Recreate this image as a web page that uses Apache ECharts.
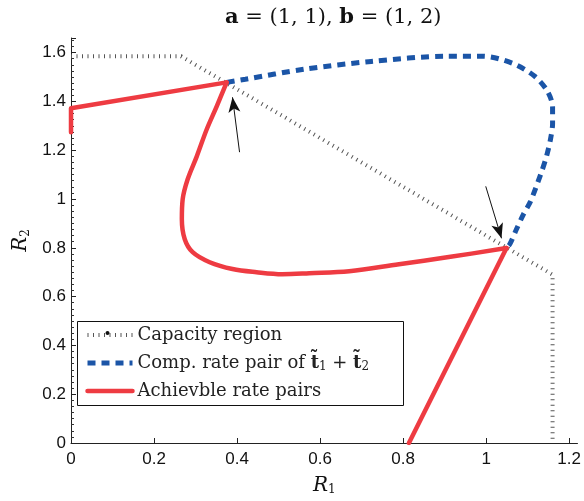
<!DOCTYPE html>
<html>
<head>
<meta charset="utf-8">
<script src="https://cdn.jsdelivr.net/npm/echarts@6/dist/echarts.min.js"></script>
<style>html,body{margin:0;padding:0;background:#fff;}#c{width:584px;height:501px;}</style>
</head>
<body>
<div id="c"></div>
<script>
// Capacity region (pentagon boundary)
const capX = [0, 0.265, 1.16, 1.16];
const capY = [1.585, 1.585, 0.69, 0];

// Computed rate pair curve (blue dashed)
const blueX = [0.375, 0.420, 0.562, 0.723, 0.903, 0.992, 1.064, 1.117, 1.148, 1.160, 1.160, 1.155, 1.146, 1.134, 1.107, 1.090, 1.073, 1.057, 1.049];
const blueY = [1.478, 1.491, 1.532, 1.564, 1.585, 1.585, 1.556, 1.503, 1.441, 1.376, 1.310, 1.245, 1.179, 1.114, 0.991, 0.938, 0.876, 0.815, 0.799];

// Achievable rate pairs (red): straight start, curve, straight tail
const redStartX = [0, 0, 0.375];
const redStartY = [1.274, 1.372, 1.478];
const redCurveX = [0.375, 0.351, 0.327, 0.303, 0.281, 0.269, 0.267, 0.274, 0.293, 0.334, 0.389, 0.447, 0.509, 0.574, 0.670, 0.790, 0.910, 1.049];
const redCurveY = [1.478, 1.380, 1.286, 1.175, 1.081, 0.999, 0.917, 0.835, 0.782, 0.741, 0.713, 0.700, 0.692, 0.696, 0.704, 0.733, 0.762, 0.799];
const redTailX = [1.049, 0.814];
const redTailY = [0.799, 0];

// Arrows [tailX, tailY, tipX, tipY]
const arrow1 = [0.406, 1.192, 0.389, 1.417];
const arrow2 = [0.999, 1.052, 1.037, 0.839];

const xTicks = [0, 0.2, 0.4, 0.6, 0.8, 1, 1.2];
const yTicks = [0, 0.2, 0.4, 0.6, 0.8, 1, 1.2, 1.4, 1.6];

const zip = (xs, ys) => xs.map((x, i) => [x, ys[i]]);

const chart = echarts.init(document.getElementById('c'), null, {renderer: 'canvas'});
const RED = '#ee3b42', BLUE = '#1b55a7';
const serif = 'DejaVu Serif';
const sans = 'Liberation Sans';

function isTick(v, arr) { return arr.some(t => Math.abs(t - v) < 1e-6); }

chart.setOption({
  animation: false,
  backgroundColor: '#fff',
  title: {
    text: '{b|a} = (1, 1), {b|b} = (1, 2)',
    left: 220, top: 2,
    textStyle: {
      fontFamily: serif, fontSize: 21, fontWeight: 'normal', color: '#111',
      rich: { b: { fontFamily: serif, fontSize: 21, fontWeight: 'bold', color: '#111' } }
    }
  },
  grid: { left: 71, right: 5, top: 38, bottom: 57, containLabel: false },
  xAxis: {
    type: 'value', min: 0, max: 1.22, interval: 0.2,
    name: '{i|R}{s|1}', nameLocation: 'middle', nameGap: 32,
    nameTextStyle: {
      rich: {
        i: { fontFamily: serif, fontStyle: 'italic', fontSize: 20, color: '#111' },
        s: { fontFamily: serif, fontSize: 12, color: '#111', padding: [9, 0, 0, 0] }
      }
    },
    axisLine: { lineStyle: { color: '#222', width: 1 } },
    axisTick: { inside: true, length: 5, lineStyle: { color: '#222' } },
    axisLabel: { showMaxLabel: false, margin: 8, fontFamily: sans, fontSize: 17, color: '#111',
      formatter: v => isTick(v, xTicks) ? String(+v.toFixed(1)) : '' },
    splitLine: { show: false }
  },
  yAxis: {
    type: 'value', min: 0, max: 1.66, interval: 0.2,
    name: '{i|R}{s|2}', nameLocation: 'middle', nameGap: 38, nameRotate: 90,
    nameTextStyle: {
      rich: {
        i: { fontFamily: serif, fontStyle: 'italic', fontSize: 20, color: '#111' },
        s: { fontFamily: serif, fontSize: 12, color: '#111', padding: [9, 0, 0, 0] }
      }
    },
    axisLine: { show: true, lineStyle: { color: '#222', width: 1 } },
    axisTick: { inside: true, length: 5, lineStyle: { color: '#222' } },
    minorTick: { show: true, splitNumber: 8, length: 3, lineStyle: { color: '#333' } },
    axisLabel: { showMaxLabel: false, margin: 5, fontFamily: sans, fontSize: 17, color: '#111',
      formatter: v => isTick(v, yTicks) ? String(+v.toFixed(1)) : '' },
    splitLine: { show: false }
  },
  graphic: [{
    type: 'rect', left: 77, top: 321, z: 100,
    shape: { width: 326, height: 84 },
    style: { fill: '#fff', stroke: '#111', lineWidth: 1 }
  }, {
    type: 'circle', left: 105.5, top: 331, z: 300,
    shape: { r: 2 },
    style: { fill: '#111' }
  }],
  legend: {
    orient: 'vertical', left: 85, top: 326, z: 200,
    padding: 0, itemWidth: 45, itemHeight: 14, itemGap: 8,
    itemStyle: { opacity: 0 },
    lineStyle: { width: 'inherit' },
    data: ['Capacity region', 'Comp. rate pair', 'Achievble rate pairs'],
    formatter: name => name === 'Comp. rate pair'
      ? '{n|Comp. rate pair of }{t|t̃}{s|1}{n| + }{t|t̃}{s|2}'
      : '{n|' + name + '}',
    textStyle: {
      fontFamily: serif, fontSize: 18, color: '#222', lineHeight: 14, height: 14,
      rich: {
        n: { fontFamily: serif, fontSize: 18, color: '#222', lineHeight: 14, height: 14 },
        t: { fontFamily: serif, fontSize: 18, fontWeight: 'bold', color: '#222', lineHeight: 14, height: 14 },
        s: { fontFamily: serif, fontSize: 12, color: '#222', lineHeight: 14, height: 14, padding: [8, 0, 0, 0] }
      }
    }
  },
  series: [
    {
      name: 'Capacity region', type: 'line', data: zip(capX, capY),
      symbol: 'none',
      itemStyle: { color: '#111' },
      lineStyle: { color: '#555', width: 4, type: [1, 4.5] },
      z: 2, silent: true
    },
    {
      name: 'Comp. rate pair', type: 'line', data: zip(blueX, blueY),
      symbol: 'none', smooth: 0.3, color: BLUE,
      lineStyle: { color: BLUE, width: 5, type: [8, 6] },
      z: 3, silent: true
    },
    {
      name: 'Achievble rate pairs', type: 'line', data: zip(redStartX, redStartY),
      symbol: 'none', color: RED,
      lineStyle: { color: RED, width: 4.5, cap: 'round', join: 'round' },
      z: 4, silent: true
    },
    {
      name: 'Achievble rate pairs', type: 'line', data: zip(redCurveX, redCurveY),
      symbol: 'none', smooth: 0.35, color: RED,
      lineStyle: { color: RED, width: 4.5, cap: 'round', join: 'round' },
      z: 4, silent: true
    },
    {
      name: 'Achievble rate pairs', type: 'line', data: zip(redTailX, redTailY),
      symbol: 'none', color: RED,
      lineStyle: { color: RED, width: 4.5, cap: 'round', join: 'round' },
      z: 4, silent: true
    },
    {
      name: 'arrows', type: 'line', data: [], silent: true, z: 5,
      markLine: {
        silent: true, animation: false,
        symbol: ['none', 'arrow'], symbolSize: [9, 15],
        label: { show: false },
        lineStyle: { color: '#111', width: 1, type: 'solid' },
        emphasis: { disabled: true },
        data: [
          [{ coord: [arrow1[0], arrow1[1]] }, { coord: [arrow1[2], arrow1[3]] }],
          [{ coord: [arrow2[0], arrow2[1]] }, { coord: [arrow2[2], arrow2[3]] }]
        ]
      }
    }
  ]
});
</script>
</body>
</html>
